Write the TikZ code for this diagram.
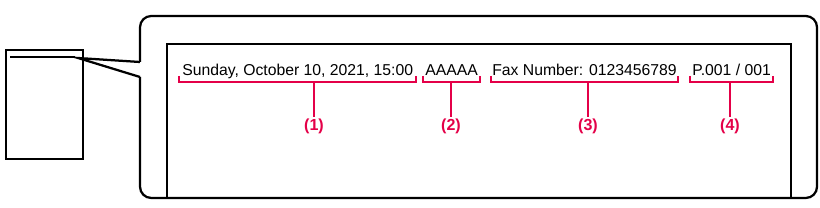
\documentclass[tikz,border=0pt]{standalone}
\usepackage{fontspec}
\setmainfont{Liberation Sans}
\usetikzlibrary{positioning, calc}
\definecolor{markred}{RGB}{228,0,72}

\begin{document}
\begin{tikzpicture}[
  x=0.025cm, y=-0.025cm,
  frame/.style={draw=black, line width=1.6pt},
  field/.style={anchor=base west, inner sep=0pt, font=\fontsize{11.2pt}{13pt}\selectfont},
  bracket/.style={draw=markred, line width=1pt},
  tag/.style={text=markred, font=\bfseries\fontsize{11.4pt}{13pt}\selectfont, inner sep=1pt}
  ]
  \useasboundingbox (0,0) rectangle (820,208);

  % --- original page ---
  \draw [frame] (6,50) rectangle (83,159);
  \draw [frame] (10,57) -- (75,57);
  \coordinate (tip) at (78,58);

  % --- callout frame ---
  \draw [frame, rounded corners=8pt]
    (140,62) -- (140,16) -- (817,16) -- (817,198) -- (140,198) -- (140,77);
  \draw [frame] (140,62) -- (tip) -- (140,77);
  \draw [frame] (167,198) -- (167,44) -- (791,44) -- (791,198);

  % --- header fields ---
  \node [field] (date)   at (182,76) {Sunday, October 10, 2021, 15:00};
  \node [field] (sender) at (425,76) {AAAAA};
  \node [field] (faxno)  at (492,76) {Fax Number: 0123456789};
  \node [field] (page)   at (692,76) {P.001 / 001};

  % --- brackets and numbers ---
  \foreach \l/\r/\m/\n in {179/416/314/1, 423/480/451/2, 491/678/588/3, 690/773/730/4}{
    \draw [bracket] (\l,76) -- (\l,82) -- (\r,82) -- (\r,76);
    \coordinate (b\n) at (\m,82);
    \node [tag] (t\n) at (\m,126) {(\n)};
    \draw [bracket] (b\n) -- (t\n.north);
  }

\end{tikzpicture}
\end{document}
